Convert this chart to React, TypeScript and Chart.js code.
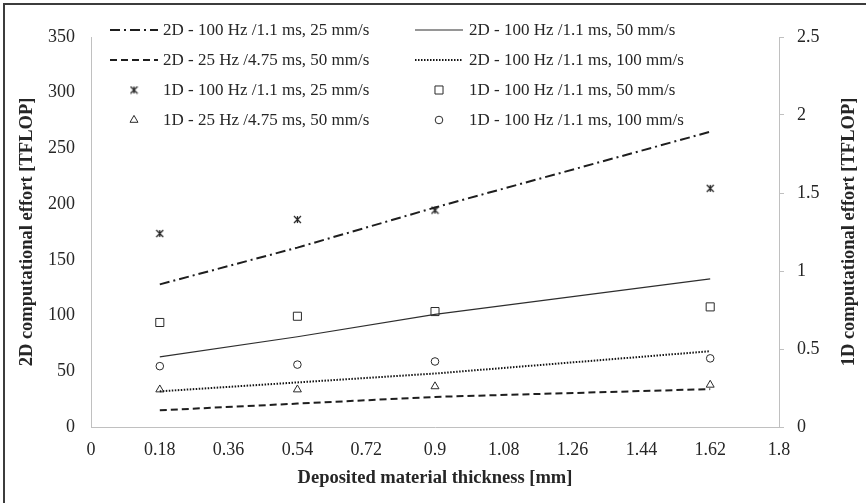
import React, { useEffect, useRef } from 'react';
import { Chart, registerables } from 'chart.js';

Chart.register(...registerables);

// Deposited material thickness [mm]
const thickness = [0.18, 0.54, 0.9, 1.62];

// 2D computational effort [TFLOP] (left axis)
const effort2D_100Hz_25 = [128, 161, 197, 265];
const effort2D_100Hz_50 = [63, 81, 101, 133];
const effort2D_25Hz_50 = [15, 21, 27, 34];
const effort2D_100Hz_100 = [32, 40, 48, 68];

// 1D computational effort [TFLOP] (right axis)
const effort1D_100Hz_25 = [1.24, 1.33, 1.39, 1.53];
const effort1D_100Hz_50 = [0.67, 0.71, 0.74, 0.77];
const effort1D_25Hz_50 = [0.24, 0.24, 0.26, 0.27];
const effort1D_100Hz_100 = [0.39, 0.4, 0.42, 0.44];

const seriesLabels = [
  '2D - 100 Hz /1.1 ms, 25 mm/s',
  '2D - 100 Hz /1.1 ms, 50 mm/s',
  '2D - 25 Hz /4.75 ms, 50 mm/s',
  '2D - 100 Hz /1.1 ms, 100 mm/s',
  '1D - 100 Hz /1.1 ms, 25 mm/s',
  '1D - 100 Hz /1.1 ms, 50 mm/s',
  '1D - 25 Hz /4.75 ms, 50 mm/s',
  '1D - 100 Hz /1.1 ms, 100 mm/s',
];

const xTicks = [0, 0.18, 0.36, 0.54, 0.72, 0.9, 1.08, 1.26, 1.44, 1.62, 1.8];
const xTickLabels = ['0', '0.18', '0.36', '0.54', '0.72', '0.9', '1.08', '1.26', '1.44', '1.62', '1.8'];
const leftTicks = [0, 50, 100, 150, 200, 250, 300, 350];
const rightTicks = [0, 0.5, 1, 1.5, 2, 2.5];
const rightTickLabels = ['0', '0.5', '1', '1.5', '2', '2.5'];

const xTitle = 'Deposited material thickness [mm]';
const leftTitle = '2D computational effort [TFLOP]';
const rightTitle = '1D computational effort [TFLOP]';

const SERIF = "'Liberation Serif', 'Times New Roman', serif";
const INK = '#262626';
const AXIS_GRAY = '#c0c0c0';

const pts = (ys: number[]) => thickness.map((x, i) => ({ x, y: ys[i] }));

function makeStar(size: number, color: string): HTMLCanvasElement {
  const c = document.createElement('canvas');
  c.width = size;
  c.height = size;
  const g = c.getContext('2d')!;
  g.strokeStyle = color;
  g.lineWidth = 1.2;
  const a = 1, b = size - 1, h = size / 2;
  g.beginPath();
  g.moveTo(a, a); g.lineTo(b, b);
  g.moveTo(b, a); g.lineTo(a, b);
  g.moveTo(h, a); g.lineTo(h, b);
  g.stroke();
  return c;
}

function drawMarker(ctx: CanvasRenderingContext2D, style: any, r: number, x: number, y: number, color: string) {
  ctx.save();
  ctx.strokeStyle = color;
  ctx.lineWidth = 1;
  ctx.setLineDash([]);
  if (style instanceof HTMLCanvasElement) {
    ctx.drawImage(style, x - style.width / 2, y - style.height / 2);
  } else {
    ctx.beginPath();
    if (style === 'rect') {
      const s = Math.SQRT1_2 * r;
      ctx.rect(x - s, y - s, 2 * s, 2 * s);
    } else if (style === 'circle') {
      ctx.arc(x, y, r, 0, Math.PI * 2);
    } else if (style === 'triangle') {
      for (let k = 0; k < 3; k++) {
        const ang = (k * 2 * Math.PI) / 3;
        const px = x + Math.sin(ang) * r;
        const py = y - Math.cos(ang) * r;
        if (k === 0) ctx.moveTo(px, py); else ctx.lineTo(px, py);
      }
      ctx.closePath();
    }
    ctx.stroke();
  }
  ctx.restore();
}

// Two-column legend laid over the top of the plot area
const gridLegend = {
  id: 'gridLegend',
  afterDatasetsDraw(chart: any) {
    const { ctx, chartArea } = chart;
    const colOffsets = [19, 324];
    const sampleLen = 48;
    const textGap = [5, 6];
    ctx.save();
    ctx.font = `17px ${SERIF}`;
    ctx.textBaseline = 'middle';
    ctx.textAlign = 'left';
    chart.data.datasets.forEach((ds: any, i: number) => {
      const row = Math.floor(i / 2);
      const col = i % 2;
      const x0 = chartArea.left + colOffsets[col];
      const y = chartArea.top - 7 + row * 30;
      if (ds.type !== 'scatter') {
        ctx.save();
        ctx.strokeStyle = ds.borderColor;
        ctx.lineWidth = ds.borderWidth;
        ctx.setLineDash(ds.borderDash || []);
        ctx.beginPath();
        ctx.moveTo(x0, y);
        ctx.lineTo(x0 + sampleLen, y);
        ctx.stroke();
        ctx.restore();
      } else {
        drawMarker(ctx, ds.pointStyle, ds.pointRadius, x0 + sampleLen / 2, y, ds.borderColor);
      }
      ctx.fillStyle = INK;
      ctx.fillText(ds.label, x0 + sampleLen + textGap[col], y + 1);
    });
    ctx.restore();
  },
};

// Axis titles (both vertical titles read bottom to top)
const axisTitles = {
  id: 'axisTitles',
  afterDraw(chart: any) {
    const { ctx, chartArea } = chart;
    const midY = (chartArea.top + chartArea.bottom) / 2;
    ctx.save();
    ctx.font = `bold 18.5px ${SERIF}`;
    ctx.fillStyle = INK;
    ctx.textAlign = 'center';
    ctx.textBaseline = 'middle';
    ctx.fillText(xTitle, (chartArea.left + chartArea.right) / 2, 478);
    ctx.save();
    ctx.translate(27, midY);
    ctx.rotate(-Math.PI / 2);
    ctx.fillText(leftTitle, 0, 0);
    ctx.restore();
    ctx.save();
    ctx.translate(849, midY);
    ctx.rotate(-Math.PI / 2);
    ctx.fillText(rightTitle, 0, 0);
    ctx.restore();
    ctx.restore();
  },
};

export default function App() {
  const canvasRef = useRef<HTMLCanvasElement | null>(null);

  useEffect(() => {
    const canvas = canvasRef.current;
    if (!canvas) return;
    const star = makeStar(9, '#222222');
    const tickFont = { family: SERIF, size: 18 };

    const lineDs = (label: string, data: number[], width: number, dash: number[], color: string) => ({
      type: 'line' as const,
      label,
      data: pts(data),
      yAxisID: 'y',
      borderColor: color,
      borderWidth: width,
      borderDash: dash,
      pointRadius: 0,
      fill: false,
      tension: 0,
    });
    const pointDs = (label: string, data: number[], style: any, radius: number) => ({
      type: 'scatter' as const,
      label,
      data: pts(data),
      yAxisID: 'y1',
      showLine: false,
      pointStyle: style,
      pointRadius: radius,
      borderColor: '#2a2a2a',
      backgroundColor: 'rgba(0,0,0,0)',
      pointBorderWidth: 1,
      borderWidth: 1,
    });

    const chart = new Chart(canvas, {
      data: {
        datasets: [
          lineDs(seriesLabels[0], effort2D_100Hz_25, 2, [10, 4, 2, 4], '#1e1e1e'),
          lineDs(seriesLabels[1], effort2D_100Hz_50, 1.2, [], '#2e2e2e'),
          lineDs(seriesLabels[2], effort2D_25Hz_50, 2, [7, 4], '#1e1e1e'),
          lineDs(seriesLabels[3], effort2D_100Hz_100, 2, [1.5, 1.5], '#141414'),
          pointDs(seriesLabels[4], effort1D_100Hz_25, star, 4.5),
          pointDs(seriesLabels[5], effort1D_100Hz_50, 'rect', 5.7),
          pointDs(seriesLabels[6], effort1D_25Hz_50, 'triangle', 4.6),
          pointDs(seriesLabels[7], effort1D_100Hz_100, 'circle', 3.8),
        ] as any,
      },
      options: {
        responsive: false,
        animation: false,
        devicePixelRatio: 1,
        layout: { padding: { top: 37, left: 0, right: 0, bottom: 0 } },
        plugins: {
          legend: { display: false },
          tooltip: { enabled: false },
        },
        scales: {
          x: {
            type: 'linear',
            min: 0,
            max: 1.8,
            afterBuildTicks: (s: any) => { s.ticks = xTicks.map((v) => ({ value: v })); },
            afterFit: (s: any) => { s.height = 76; },
            ticks: {
              callback: (_v: any, i: number) => xTickLabels[i],
              font: tickFont,
              color: INK,
              padding: 12,
              maxRotation: 0,
              autoSkip: false,
            },
            grid: { display: false, drawTicks: false },
            border: { color: AXIS_GRAY, width: 1 },
          },
          y: {
            type: 'linear',
            position: 'left',
            min: 0,
            max: 350,
            afterBuildTicks: (s: any) => { s.ticks = leftTicks.map((v) => ({ value: v })); },
            afterFit: (s: any) => { s.width = 91; },
            ticks: {
              callback: (v: any) => String(v),
              font: tickFont,
              color: INK,
              padding: 16,
            },
            grid: { display: false, drawTicks: false },
            border: { color: AXIS_GRAY, width: 1 },
          },
          y1: {
            type: 'linear',
            position: 'right',
            min: 0,
            max: 2.5,
            afterBuildTicks: (s: any) => { s.ticks = rightTicks.map((v) => ({ value: v })); },
            afterFit: (s: any) => { s.width = 87; },
            ticks: {
              callback: (_v: any, i: number) => rightTickLabels[i],
              font: tickFont,
              color: INK,
              padding: 13,
            },
            grid: { display: true, drawOnChartArea: false, drawTicks: true, tickLength: 5, color: AXIS_GRAY },
            border: { color: AXIS_GRAY, width: 1 },
          },
        },
      } as any,
      plugins: [gridLegend, axisTitles],
    });

    return () => chart.destroy();
  }, []);

  return (
    <div style={{ position: 'fixed', left: 0, top: 0, width: 866, height: 503, overflow: 'hidden', background: '#fff' }}>
      <div
        style={{
          position: 'absolute',
          left: 3,
          top: 3,
          width: 1000,
          height: 1000,
          border: '2px solid #3c3c3c',
          boxSizing: 'border-box',
        }}
      />
      <canvas ref={canvasRef} width={866} height={503} style={{ position: 'absolute', left: 0, top: 0, width: 866, height: 503 }} />
    </div>
  );
}
